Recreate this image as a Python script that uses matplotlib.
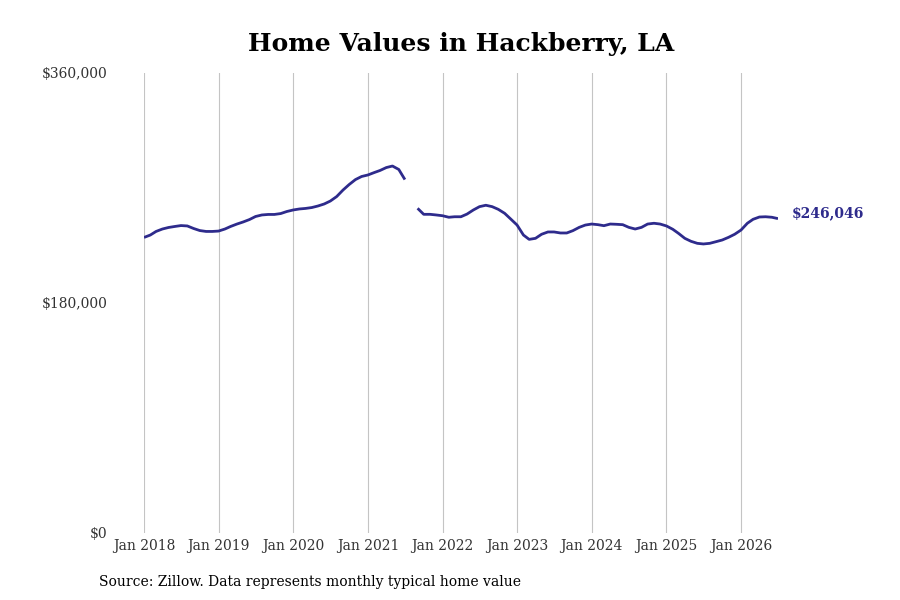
import numpy as np
import matplotlib
matplotlib.use("Agg")
import matplotlib.pyplot as plt
import pandas as pd

plt.rcParams['font.family'] = ['DejaVu Serif']

months = pd.date_range("2018-01-01", "2026-07-01", freq="MS")
values = [
    231300, 233200, 236000, 237900, 239100, 239900, 240600, 240300, 238300, 236700, 236000, 236000,
    236300, 237900, 239900, 241800, 243400, 245300, 247700, 248900, 249300, 249300, 250000, 251600,
    252800, 253600, 254000, 254700, 255900, 257500, 259800, 263300, 268400, 272700, 276600, 279000,
    280200, 282100, 283700, 286000, 287200, 284500, 276600, np.nan, 254100, 249400, 249400, 248900,
    248300, 247100, 247500, 247500, 249600, 252800, 255400, 256500, 255400, 253300, 250200, 245700,
    241000, 233200, 229800, 230600, 233800, 235600, 235600, 234800, 234800, 236600, 239200, 241000,
    241800, 241300, 240500, 241800, 241600, 241300, 239200, 237900, 239200, 241800, 242400, 241800,
    240300, 237700, 234500, 230600, 228300, 226700, 226200, 226700, 228000, 229300, 231400, 233800,
    237100, 242400, 245500, 247300, 247500, 247100, 246046,
]
yticks = [0, 180000, 360000]
ytick_labels = ["$0", "$180,000", "$360,000"]
year_ticks = pd.date_range("2018-01-01", "2026-01-01", freq="YS")
year_labels = [f"Jan {d.year}" for d in year_ticks]

line_color = "#2e2b8c"

fig = plt.figure(figsize=(9, 6), dpi=100)
ax = fig.add_axes([144/900, (600-533)/600, (778-144)/900, 460/600])
ax.plot(months, values, color=line_color, lw=2.0, solid_capstyle='butt')
ax.set_xlim(months[0], months[-1])
ax.set_ylim(0, 360000)
ax.set_yticks(yticks)
ax.set_yticklabels(ytick_labels)
ax.set_xticks(year_ticks)
ax.set_xticklabels(year_labels)
for s in ax.spines.values():
    s.set_visible(False)
ax.grid(axis='x', color='#c4c4c4', lw=0.8)
ax.grid(axis='y', visible=False)
ax.tick_params(axis='both', length=0, colors='#333333', labelsize=10)
ax.tick_params(axis='x', pad=4.5)
ax.tick_params(axis='y', pad=26.5)

last = values[-1]
ax.annotate(f"${last:,.0f}", xy=(months[-1], last), xytext=(10, 4.2),
            textcoords='offset points', va='center', ha='left',
            color=line_color, fontweight='bold', fontsize=10)

fig.text(461/900, 0.926, "Home Values in Hackberry, LA", ha='center', va='center',
         fontsize=18, fontweight='bold', color='black')
fig.text(99/900, 1 - 582/600, "Source: Zillow. Data represents monthly typical home value",
         ha='left', va='center', fontsize=10, color='black')

fig.savefig("out.png", dpi=100)
